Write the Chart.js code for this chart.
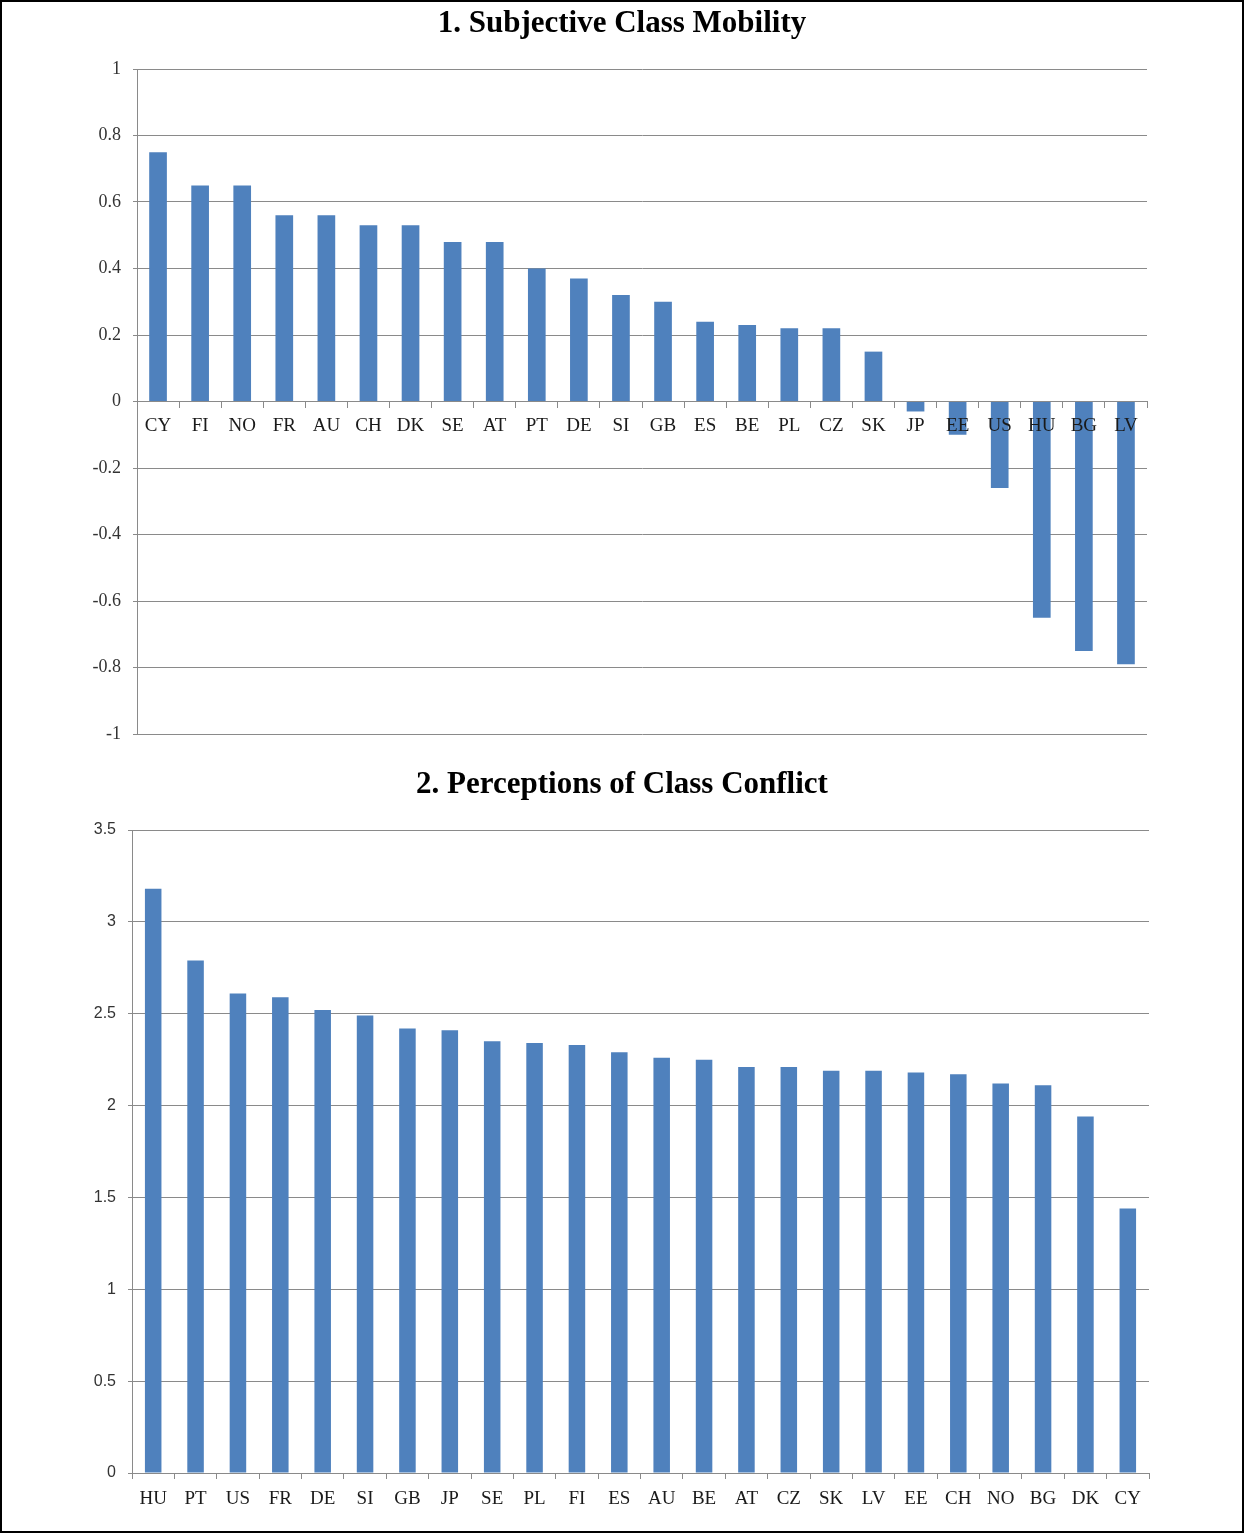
<!DOCTYPE html>
<html>
<head>
<meta charset="utf-8">
<script src="https://cdn.jsdelivr.net/npm/chart.js@4/dist/chart.umd.min.js"></script>
<style>
  html, body { margin: 0; padding: 0; background: #fff; }
  #frame {
    position: relative; width: 1244px; height: 1533px;
    box-sizing: border-box; border: 2px solid #000; overflow: hidden;
  }
  canvas { position: absolute; left: -2px; }
  #c1 { top: -2px; }
  #c2 { top: 758px; }
  .ttl {
    position: absolute; left: -2px; width: 1244px; text-align: center;
    font: bold 31px "Liberation Serif", "DejaVu Serif", serif; color: #000;
    line-height: 36px; white-space: nowrap;
  }
  #t1 { top: 2px; }
  #t2 { top: 763px; }
</style>
</head>
<body>
<div id="frame">
  <canvas id="c1" width="1244" height="760"></canvas>
  <canvas id="c2" width="1244" height="773"></canvas>
  <div class="ttl" id="t1"></div>
  <div class="ttl" id="t2"></div>
</div>
<script>
// Panel 1: subjective class mobility by country
const mobilityCountries = ['CY','FI','NO','FR','AU','CH','DK','SE','AT','PT','DE','SI','GB','ES','BE','PL','CZ','SK','JP','EE','US','HU','BG','LV'];
const mobilityValues = [0.75,0.65,0.65,0.56,0.56,0.53,0.53,0.48,0.48,0.40,0.37,0.32,0.30,0.24,0.23,0.22,0.22,0.15,-0.03,-0.10,-0.26,-0.65,-0.75,-0.79];
const mobilityTitle = '1. Subjective Class Mobility';

// Panel 2: perceptions of class conflict by country
const conflictCountries = ['HU','PT','US','FR','DE','SI','GB','JP','SE','PL','FI','ES','AU','BE','AT','CZ','SK','LV','EE','CH','NO','BG','DK','CY'];
const conflictValues = [3.18,2.79,2.61,2.59,2.52,2.49,2.42,2.41,2.35,2.34,2.33,2.29,2.26,2.25,2.21,2.21,2.19,2.19,2.18,2.17,2.12,2.11,1.94,1.44];
const conflictTitle = '2. Perceptions of Class Conflict';

document.getElementById('t1').textContent = mobilityTitle;
document.getElementById('t2').textContent = conflictTitle;

const BAR = '#4f81bd';
const GRID = '#8a8a8a';
const SERIF = '"Liberation Serif", "DejaVu Serif", serif';
const SANS = '"Liberation Sans", Arial, sans-serif';

const fmt = v => String(Math.round(v * 10) / 10);

new Chart(document.getElementById('c1'), {
  type: 'bar',
  data: {
    labels: mobilityCountries,
    datasets: [{ data: mobilityValues, backgroundColor: BAR, borderWidth: 0,
                 categoryPercentage: 1, barPercentage: 0.42 }]
  },
  options: {
    responsive: false, animation: false,
    layout: { padding: { left: 10, right: 97, top: 69, bottom: 26 } },
    plugins: { legend: { display: false }, tooltip: { enabled: false }, title: { display: false } },
    scales: {
      x: {
        position: { y: 0 },
        grid: { offset: true, drawOnChartArea: false, drawTicks: true, tickLength: 6, color: GRID },
        border: { color: GRID, width: 1 },
        // country codes sit on the zero line and are painted over the negative bars
        ticks: { z: 1, color: '#1a1a1a', padding: 7, maxRotation: 0, autoSkip: false,
                 font: { family: SERIF, size: 19 } },
        afterFit: s => { s.height = 0; }
      },
      y: {
        min: -1, max: 1,
        grid: { color: GRID, lineWidth: 1, tickLength: 4 },
        border: { color: GRID, width: 1 },
        ticks: { stepSize: 0.2, padding: 12, color: '#333', callback: fmt,
                 font: { family: SERIF, size: 18 } },
        afterFit: s => { s.width = 127; }
      }
    }
  }
});

new Chart(document.getElementById('c2'), {
  type: 'bar',
  data: {
    labels: conflictCountries,
    datasets: [{ data: conflictValues, backgroundColor: BAR, borderWidth: 0,
                 categoryPercentage: 1, barPercentage: 0.39 }]
  },
  options: {
    responsive: false, animation: false,
    layout: { padding: { left: 10, right: 95, top: 70, bottom: 5 } },
    plugins: { legend: { display: false }, tooltip: { enabled: false }, title: { display: false } },
    scales: {
      x: {
        grid: { offset: true, drawOnChartArea: false, drawTicks: true, tickLength: 6, color: GRID },
        border: { color: GRID, width: 1 },
        ticks: { color: '#1a1a1a', padding: 9, maxRotation: 0, autoSkip: false,
                 font: { family: SERIF, size: 19 } },
        afterFit: s => { s.height = 55; }
      },
      y: {
        min: 0, max: 3.5,
        grid: { color: GRID, lineWidth: 1, tickLength: 4 },
        border: { color: GRID, width: 1 },
        ticks: { stepSize: 0.5, padding: 12, color: '#333', callback: fmt,
                 font: { family: SANS, size: 16 } },
        afterFit: s => { s.width = 122; }
      }
    }
  }
});
</script>
</body>
</html>
